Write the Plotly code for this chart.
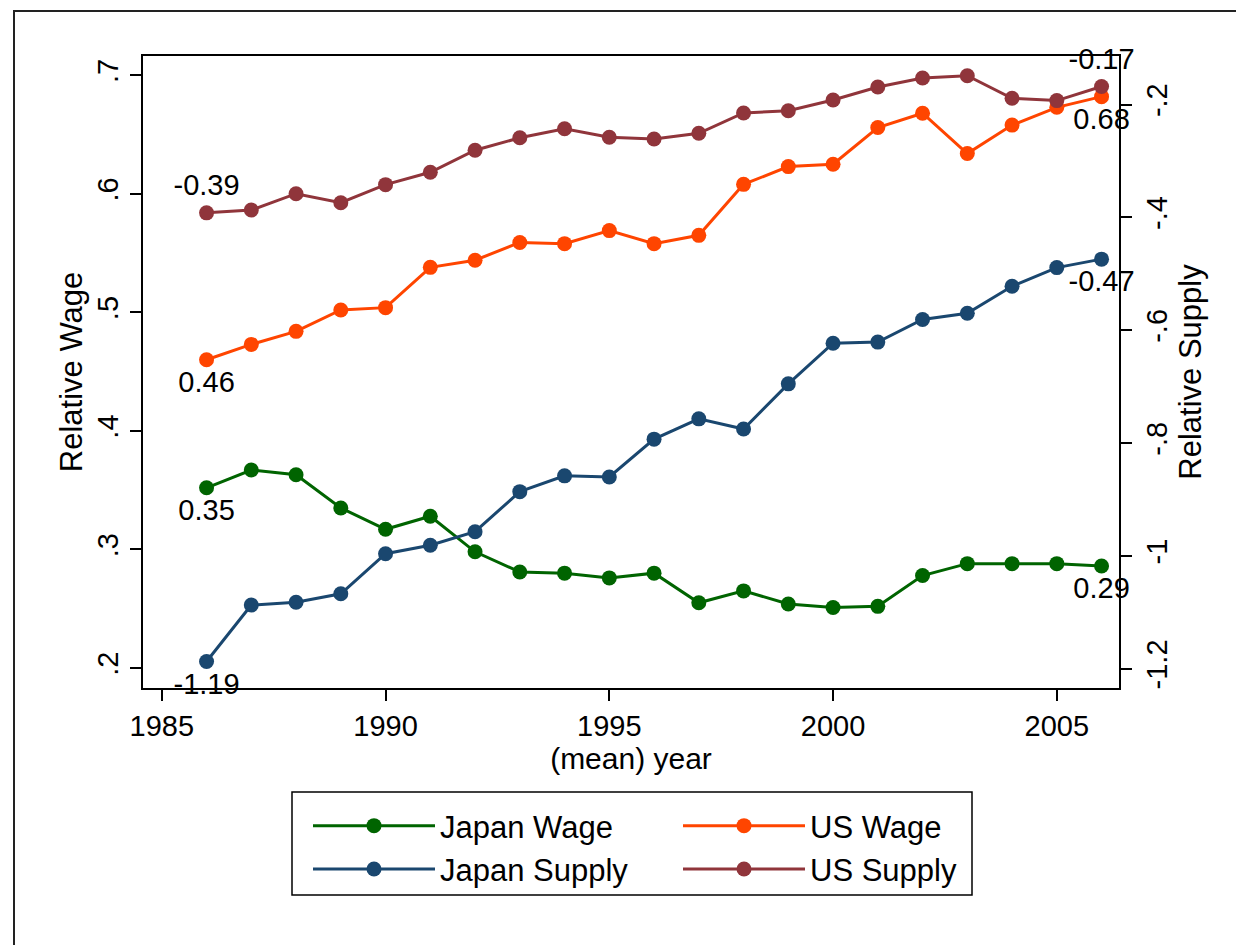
import plotly.graph_objects as go

years = list(range(1986, 2007))

japan_wage = [0.352, 0.367, 0.363, 0.335, 0.317, 0.328, 0.298, 0.281, 0.280, 0.276, 0.280,
              0.255, 0.265, 0.254, 0.251, 0.252, 0.278, 0.288, 0.288, 0.288, 0.286]
us_wage = [0.460, 0.473, 0.484, 0.502, 0.504, 0.538, 0.544, 0.559, 0.558, 0.569, 0.558,
           0.565, 0.608, 0.623, 0.625, 0.656, 0.668, 0.634, 0.658, 0.673, 0.682]
japan_supply = [-1.187, -1.087, -1.082, -1.067, -0.996, -0.981, -0.957, -0.886, -0.858, -0.860, -0.793,
                -0.757, -0.775, -0.695, -0.623, -0.621, -0.581, -0.570, -0.522, -0.489, -0.474]
us_supply = [-0.392, -0.387, -0.358, -0.374, -0.342, -0.320, -0.281, -0.259, -0.243, -0.258, -0.261,
             -0.251, -0.215, -0.211, -0.192, -0.169, -0.153, -0.149, -0.189, -0.193, -0.168]

x_ticks = [1985, 1990, 1995, 2000, 2005]
x_ticktext = ["1985", "1990", "1995", "2000", "2005"]
wage_ticks = [0.2, 0.3, 0.4, 0.5, 0.6, 0.7]
wage_ticktext = [".2", ".3", ".4", ".5", ".6", ".7"]
supply_ticks = [-1.2, -1.0, -0.8, -0.6, -0.4, -0.2]
supply_ticktext = ["-1.2", "-1", "-.8", "-.6", "-.4", "-.2"]

series = [
    # name, values, color, axis, legend, first label pos, last label pos
    ("Japan Wage", japan_wage, "#006400", "y", "legend", "bottom center", "bottom center"),
    ("US Wage", us_wage, "#FF4500", "y", "legend2", "bottom center", "bottom center"),
    ("Japan Supply", japan_supply, "#1A476F", "y2", "legend", "bottom center", "bottom center"),
    ("US Supply", us_supply, "#90353B", "y2", "legend2", "top center", "top center"),
]

FONT = "Liberation Sans, Arial, sans-serif"

fig = go.Figure()
for name, vals, color, axis, leg, pos_first, pos_last in series:
    n = len(vals)
    texts = [""] * n
    texts[0] = f"{vals[0]:.2f}"
    texts[-1] = f"{vals[-1]:.2f}"
    positions = ["bottom center"] * n
    positions[0] = pos_first
    positions[-1] = pos_last
    fig.add_trace(go.Scatter(
        x=years, y=vals, name=name, yaxis=axis, legend=leg,
        mode="lines+markers+text",
        line=dict(color=color, width=3),
        marker=dict(color=color, size=15),
        text=texts, textposition=positions,
        textfont=dict(family=FONT, size=29, color="black"),
        cliponaxis=False,
    ))

W, H = 1236, 945
L, R, T, B = 143, 117, 56, 257
pw, ph = W - L - R, H - T - B

def px(x):
    return (x - L) / pw

def py(y):
    return (H - B - y) / ph

fig.update_layout(
    width=W, height=H,
    margin=dict(l=L, r=R, t=T, b=B),
    paper_bgcolor="white", plot_bgcolor="white",
    font=dict(family=FONT, size=29, color="black"),
    xaxis=dict(
        range=[1984.58, 2006.39], tickvals=x_ticks, ticktext=x_ticktext,
        showgrid=False, zeroline=False, showline=True, linecolor="black", linewidth=2,
        mirror=True, ticks="outside", ticklen=11, tickwidth=1.5, tickcolor="black",
        tickfont=dict(size=29),
        title=dict(text="(mean) year", font=dict(size=30), standoff=6),
    ),
    yaxis=dict(
        range=[0.1831, 0.7163], tickvals=wage_ticks, ticktext=wage_ticktext,
        showgrid=False, zeroline=False, showline=True, linecolor="black", linewidth=2,
        mirror=True, ticks="outside", ticklen=11, tickwidth=1.5, tickcolor="black",
        tickangle=-90, tickfont=dict(size=29),
        title=dict(text="Relative Wage", font=dict(size=31), standoff=1),
    ),
    yaxis2=dict(
        range=[-1.234, -0.114], tickvals=supply_ticks, ticktext=supply_ticktext,
        overlaying="y", side="right",
        showgrid=False, zeroline=False, showline=True, linecolor="black", linewidth=2,
        ticks="outside", ticklen=11, tickwidth=1.5, tickcolor="black",
        tickangle=-90, tickfont=dict(size=29),
        title=dict(text="Relative Supply", font=dict(size=31), standoff=0),
    ),
    legend=dict(
        x=px(308), y=py(799), xanchor="left", yanchor="top",
        orientation="v", itemwidth=122, bgcolor="rgba(0,0,0,0)",
        font=dict(size=31), tracegroupgap=0,
    ),
    legend2=dict(
        x=px(678), y=py(799), xanchor="left", yanchor="top",
        orientation="v", itemwidth=122, bgcolor="rgba(0,0,0,0)",
        font=dict(size=31), tracegroupgap=0,
    ),
    showlegend=True,
    shapes=[
        # legend box
        dict(type="rect", xref="paper", yref="paper",
             x0=px(292), x1=px(972), y0=py(895), y1=py(792),
             line=dict(color="black", width=1.5), fillcolor="rgba(0,0,0,0)"),
        # outer frame
        dict(type="rect", xref="paper", yref="paper",
             x0=px(14), x1=px(1260), y0=py(970), y1=py(11),
             line=dict(color="#222222", width=2), fillcolor="rgba(0,0,0,0)"),
    ],
)

fig.write_html("out.html", config={"displayModeBar": False})
